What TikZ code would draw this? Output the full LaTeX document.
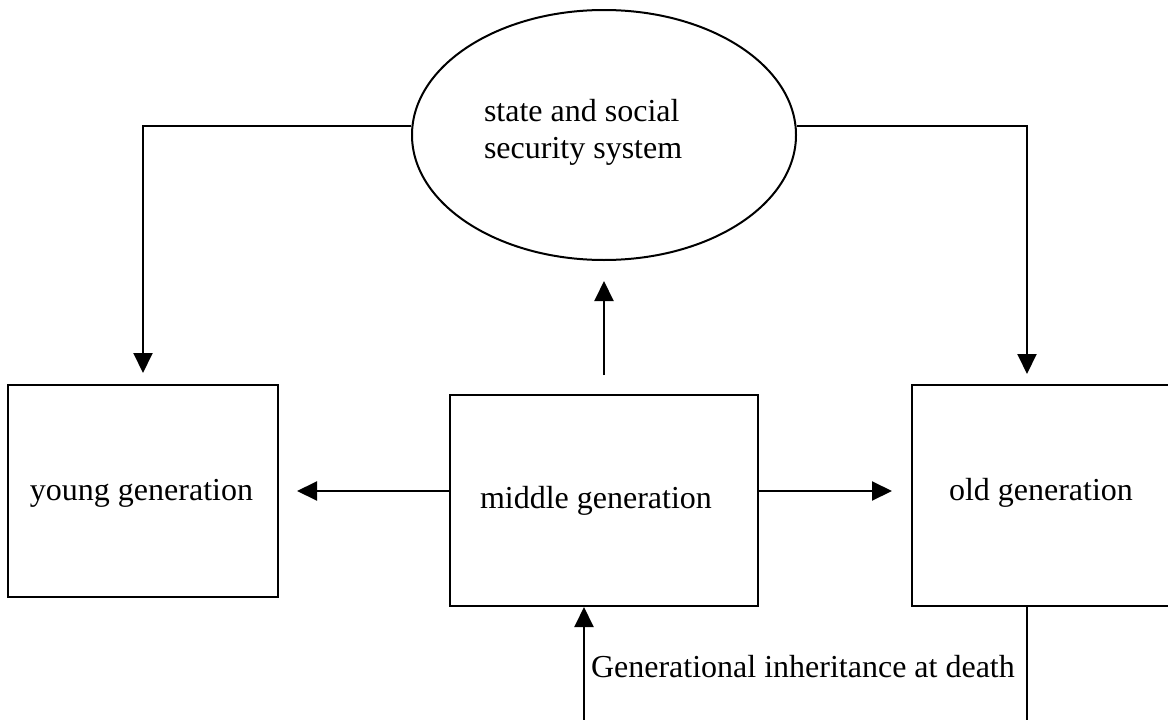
\documentclass[tikz,border=0pt]{standalone}
\usepackage{fontspec}
\setmainfont{Liberation Serif}
\usetikzlibrary{shapes.geometric,arrows.meta}
\begin{document}
\begin{tikzpicture}[x=1pt,y=-1pt,
  line width=2pt,
  arr/.style={-{Triangle[length=20pt,width=19pt]}},
  genbox/.style={draw,rectangle,inner sep=0pt},
  lbl/.style={font=\fontsize{32}{37}\selectfont,inner sep=0pt,anchor=base west},
]
\useasboundingbox (0,0) rectangle (1168,720);
\clip (0,0) rectangle (1168,720);
\fill[white] (0,0) rectangle (1168,720);
% shapes
\node[draw,ellipse,minimum width=384pt,minimum height=250pt,inner sep=0pt] (ell) at (604,135) {};
\node[genbox,minimum width=270pt,minimum height=212pt] (young) at (143,491) {};
\node[genbox,minimum width=308pt,minimum height=211pt] (mid) at (604,500.5) {};
\node[genbox,minimum width=270pt,minimum height=221pt] (old) at (1047,495.5) {};
% texts
\node[lbl] (ellt1) at (483,121) {state and social};
\node[lbl] (ellt2) at (483,158) {security system};
\node[lbl] (youngt) at (29,500) {young generation};
\node[lbl] (midt) at (479,508) {middle generation};
\node[lbl] (oldt) at (948,500) {old generation};
\node[lbl] (inh) at (590,677) {Generational inheritance at death};
% connector helper points
\coordinate (oldin) at (1027,374);
\coordinate (oldout) at (1027,606);
\coordinate (midin) at (584,607);
\coordinate (midL) at (450,491);
\coordinate (youngin) at (297,491);
\coordinate (midR) at (757,491);
\coordinate (oldinL) at (892,491);
% connectors
\draw[arr] ([yshift=9pt]ell.west) -| ([yshift=11pt]young.north);
\draw[arr] ([yshift=9pt]ell.east) -| (oldin);
\draw[arr] ([yshift=19pt]mid.north) -- ([yshift=-20pt]ell.south);
\draw[arr] (midL) -- (youngin);
\draw[arr] (midR) -- (oldinL);
\draw[arr] (oldout) -- (1027,740) -| (midin);
\end{tikzpicture}
\end{document}
